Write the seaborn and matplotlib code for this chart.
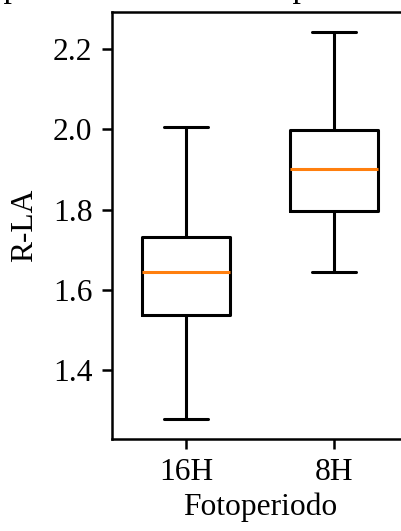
import matplotlib
matplotlib.use("Agg")
import matplotlib.pyplot as plt
import seaborn as sns
import pandas as pd

# Data (five-number summary per group)
categories = ["16H", "8H"]
r_la_16H = [1.277, 1.538, 1.644, 1.732, 2.006]
r_la_8H = [1.644, 1.797, 1.900, 1.998, 2.244]
x_label = "Fotoperiodo"
y_label = "R-LA"
y_ticks = [1.4, 1.6, 1.8, 2.0, 2.2]
title_text = "Boxplot de R-LA vs Fotoperiodo"

df = pd.DataFrame({
    x_label: [categories[0]] * len(r_la_16H) + [categories[1]] * len(r_la_8H),
    y_label: r_la_16H + r_la_8H,
})

sns.set_style("ticks")
plt.rcParams["font.family"] = ["Liberation Serif", "DejaVu Serif"]
plt.rcParams["text.color"] = "black"
plt.rcParams["axes.labelcolor"] = "black"

fs = 22.7
fig = plt.figure(figsize=(4.01, 5.31), dpi=100)
ax = fig.add_axes([0.2793, 0.1733, 0.7382, 0.8041])

sns.boxplot(
    data=df, x=x_label, y=y_label, order=categories, ax=ax,
    width=0.6, whis=(0, 100), fill=False, color="black", linecolor="black",
    linewidth=2.2,
    medianprops={"color": "#ff7f0e", "linewidth": 2.2},
)

ax.set_xlim(-0.5, 1.5)
ax.set_ylim(1.2275, 2.293)
ax.set_yticks(y_ticks)
ax.set_yticklabels([f"{v:.1f}" for v in y_ticks])
ax.tick_params(axis="both", labelsize=fs, length=7, width=1.8, pad=7,
               color="black", labelcolor="black", right=False, top=False)
ax.set_xlabel(x_label, fontsize=fs, color="black", labelpad=4)
ax.set_ylabel(y_label, fontsize=fs, color="black", labelpad=10)
for k in ["left", "top", "bottom", "right"]:
    ax.spines[k].set_visible(True)
    ax.spines[k].set_linewidth(1.8)
    ax.spines[k].set_color("black")

fig.text(172 / 401, 1 + 3 / 531, title_text, ha="center", va="baseline",
         fontsize=24.5, color="black")

fig.savefig("out.png", dpi=100)
